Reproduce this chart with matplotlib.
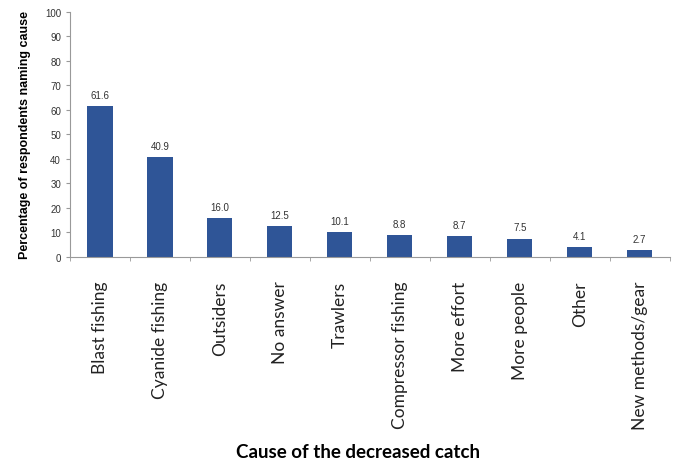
import numpy as np
import matplotlib
matplotlib.use('Agg')
import matplotlib.pyplot as plt

causes = ['Blast fishing', 'Cyanide fishing', 'Outsiders', 'No answer', 'Trawlers',
          'Compressor fishing', 'More effort', 'More people', 'Other', 'New methods/gear']
percent = [61.6, 40.9, 16.0, 12.5, 10.1, 8.8, 8.7, 7.5, 4.1, 2.7]
yticks = [0, 10, 20, 30, 40, 50, 60, 70, 80, 90, 100]

plt.rcParams['font.family'] = ['Liberation Sans', 'DejaVu Sans']

fig = plt.figure(figsize=(6.73, 4.64), dpi=100)
ax = fig.add_axes([0.104, 0.444, 0.891, 0.528])

x = np.arange(len(causes))
ax.bar(x, percent, width=0.42, color='#2F5597')
for xi, v in zip(x, percent):
    ax.text(xi, v + 2.5, '%.1f' % v, ha='center', va='bottom', fontsize=7, color='#333333')

ax.set_xlim(-0.5, len(causes) - 0.5)
ax.set_ylim(0, 100)
ax.set_yticks(yticks)
ax.tick_params(axis='y', labelsize=7, length=3, color='#999999', labelcolor='#333333')
ax.set_xticks(x)
ax.set_xticklabels(causes, rotation=90, fontsize=12.5, family='Lato', color='#222222')
ax.set_xticks(np.arange(len(causes) + 1) - 0.5, minor=True)
ax.tick_params(axis='x', which='major', length=0, pad=17)
ax.tick_params(axis='x', which='minor', length=3, color='#999999')

for s in ['top', 'right']:
    ax.spines[s].set_visible(False)
for s in ['left', 'bottom']:
    ax.spines[s].set_color('#999999')

ax.set_ylabel('Percentage of respondents naming cause', fontsize=9, fontweight='bold', labelpad=10)
fig.text(0.532, 0.025, 'Cause of the decreased catch', ha='center', va='center',
         fontsize=13.5, fontweight='bold', family='Lato')

fig.savefig('out.png', dpi=100)
